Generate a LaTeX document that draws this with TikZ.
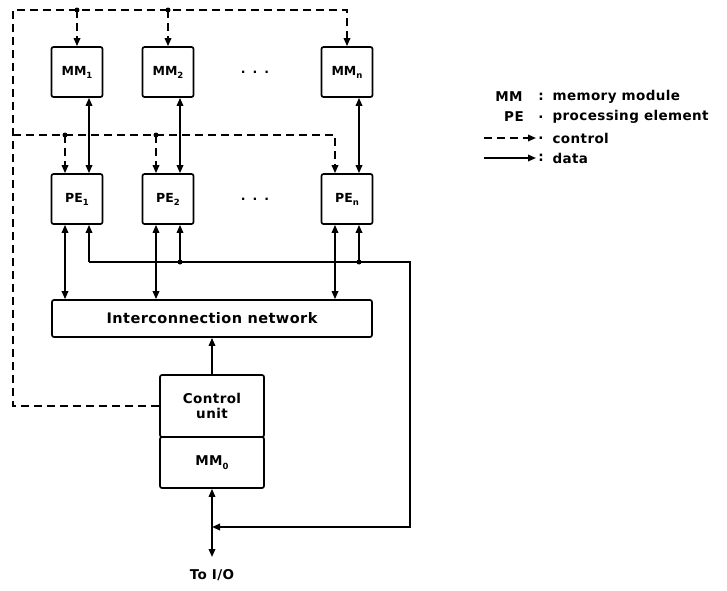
\documentclass[tikz,border=0pt]{standalone}
\usepackage{fontspec}
\setmainfont{DejaVu Sans}
\usetikzlibrary{arrows.meta}
\newcommand{\subidx}[1]{\raisebox{-0.45ex}{\fontsize{8.5}{8.5}\selectfont #1}}
\begin{document}
\begin{tikzpicture}[x=1pt,y=-1pt,
  font=\fontsize{12.5}{15}\selectfont\bfseries,
  box/.style={draw, line width=1.7pt, rounded corners=2pt, minimum width=51pt, minimum height=50pt, inner sep=0pt},
  ln/.style={line width=1.7pt},
  ctl/.style={line width=1.7pt, dash pattern=on 8pt off 5pt},
  tip/.style={-{Triangle[length=8pt,width=6.5pt]}},
  bi/.style={{Triangle[length=8pt,width=6.5pt]}-{Triangle[length=8pt,width=6.5pt]}},
  jdot/.style={circle, fill, inner sep=0pt, minimum size=5pt},
  lg/.style={font=\fontsize{13.5}{16}\selectfont\bfseries\addfontfeature{LetterSpace=3}},
  nt/.style={font=\fontsize{14.5}{16}\selectfont\bfseries\addfontfeature{LetterSpace=3}}]
\useasboundingbox (0,0) rectangle (727,590);

% boxes
\node[box] (mm1) at (77,72) {MM\subidx{1}};
\node[box] (mm2) at (168,72) {MM\subidx{2}};
\node[box] (mmn) at (347,72) {MM\subidx{n}};
\node (mdots) at (255,72) {.\hspace{7pt}.\hspace{7pt}.};
\node[box] (pe1) at (77,199) {PE\subidx{1}};
\node[box] (pe2) at (168,199) {PE\subidx{2}};
\node[box] (pen) at (347,199) {PE\subidx{n}};
\node (pdots) at (255,199) {.\hspace{7pt}.\hspace{7pt}.};
\node[box, minimum width=320pt, minimum height=37pt, nt] (net) at (212,318.5) {Interconnection network};
\node[box, minimum width=104pt, minimum height=62pt, align=center, lg] (cu) at (212,406) {Control\\[-1pt]unit};
\node[box, minimum width=104pt, minimum height=51pt, lg] (mm0) at (212,462.5) {MM\subidx{0}};

% control lines
\coordinate (cl) at (13,406);
\coordinate (tl) at (13,10);
\coordinate (tr) at (347,10);
\draw[ctl,tip] (cu.west) -- (cl) -- (tl) -- (tr) -- (mmn.north);
\coordinate (j1) at (77,10);
\coordinate (j2) at (168,10);
\draw[ctl,tip] (j1) -- (mm1.north);
\draw[ctl,tip] (j2) -- (mm2.north);
\node[jdot] at (j1) {};
\node[jdot] at (j2) {};
\coordinate (ml) at (13,135);
\coordinate (mr) at (335,135);
\draw[ctl,tip] (ml) -- (mr) -- (mr |- pen.north);
\coordinate (k1) at (65,135);
\coordinate (k2) at (156,135);
\draw[ctl,tip] (k1) -- (k1 |- pe1.north);
\draw[ctl,tip] (k2) -- (k2 |- pe2.north);
\node[jdot] at (k1) {};
\node[jdot] at (k2) {};

% data MM <-> PE
\draw[ln,bi] ([xshift=12pt]mm1.south) -- ([xshift=12pt]pe1.north);
\draw[ln,bi] ([xshift=12pt]mm2.south) -- ([xshift=12pt]pe2.north);
\draw[ln,bi] ([xshift=12pt]mmn.south) -- ([xshift=12pt]pen.north);

% PE <-> network
\draw[ln,bi] ([xshift=-12pt]pe1.south) -- ([xshift=-12pt]pe1.south |- net.north);
\draw[ln,bi] ([xshift=-12pt]pe2.south) -- ([xshift=-12pt]pe2.south |- net.north);
\draw[ln,bi] ([xshift=-12pt]pen.south) -- ([xshift=-12pt]pen.south |- net.north);

% bus
\coordinate (b1) at (89,262);
\coordinate (b2) at (180,262);
\coordinate (bn) at (359,262);
\coordinate (br) at (410,262);
\coordinate (bb) at (410,527);
\coordinate (io) at (212,527);
\draw[ln,tip] (b1) -- (br) -- (bb) -- (io);
\draw[ln,tip] (b1) -- ([xshift=12pt]pe1.south);
\draw[ln,tip] (b2) -- ([xshift=12pt]pe2.south);
\draw[ln,tip] (bn) -- ([xshift=12pt]pen.south);
\node[jdot] at (b2) {};
\node[jdot] at (bn) {};

% control unit -> network
\draw[ln,tip] (cu.north) -- (net.south);

% I/O
\coordinate (iot) at (212,557);
\draw[ln,bi] (mm0.south) -- (iot);
\node[lg] (iolbl) at (212,575) {To I/O};

% legend
\node[lg] (lmm) at (509,97) {MM};
\node[lg] (lmmc) at (541,97) {:};
\node[lg, anchor=west] (lmmt) at (549,97) {memory module};
\node[lg] (lpe) at (514,117) {PE};
\node[lg] (lpec) at (541,117) {.};
\node[lg, anchor=west] (lpet) at (549,117) {processing element};
\coordinate (lc1) at (484,138);
\coordinate (lc2) at (536,138);
\draw[ctl,tip] (lc1) -- (lc2);
\node[lg] (lcc) at (541,138) {.};
\node[lg, anchor=west] (lct) at (549,138) {control};
\coordinate (ld1) at (484,158);
\coordinate (ld2) at (536,158);
\draw[ln,tip] (ld1) -- (ld2);
\node[lg] (ldc) at (541,158) {:};
\node[lg, anchor=west] (ldt) at (549,158) {data};
\end{tikzpicture}
\end{document}
